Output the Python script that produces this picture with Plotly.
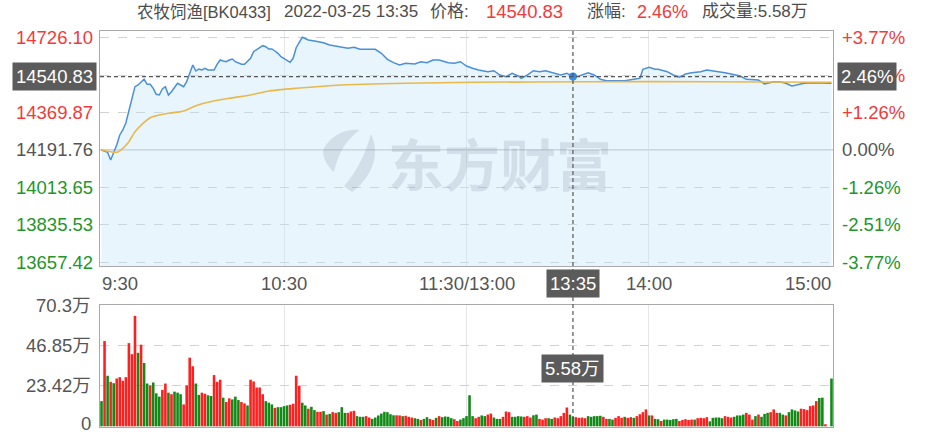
import plotly.graph_objects as go

# ---------------- data ----------------
stock_name = "农牧饲渔"
stock_code = "BK0433"
trade_date = "2022-03-25"
prev_close = 14191.76

time_labels = ["9:30", "10:30", "11:30/13:00", "14:00", "15:00"]
time_label_idx = [0, 60, 120, 180, 240]

price_idx = [0, 2, 3, 4, 5, 6, 7, 8, 9, 10, 11, 12, 14, 15, 16, 17, 18, 19, 20, 21,
             22, 23, 25, 26, 27, 28, 29, 30, 31, 32, 33, 34, 35, 37, 38, 39, 40, 41, 42, 43,
             44, 45, 46, 47, 49, 50, 51, 52, 53, 54, 55, 56, 57, 58, 59, 61, 62, 63, 64, 66,
             68, 70, 73, 75, 77, 79, 81, 83, 85, 87, 90, 92, 94, 96, 98, 100, 103, 105, 107, 109,
             111, 114, 116, 118, 120, 122, 124, 127, 129, 131, 133, 135, 137, 138, 140, 142, 144, 146, 148, 151,
             153, 155, 157, 159, 160, 162, 164, 166, 168, 170, 172, 175, 177, 178, 180, 182, 183, 186, 188, 190,
             192, 194, 197, 199, 201, 203, 205, 207, 210, 212, 214, 216, 218, 221, 223, 225, 227, 229, 231, 234,
             236, 238, 240]
price_val = [14191.3, 14180.4, 14143.7, 14175.6, 14215.1, 14262.8, 14286.6, 14319.9, 14373.7, 14429.4,
             14492.8, 14500.9, 14528.0, 14504.2, 14504.2, 14485.1, 14456.6, 14453.2, 14481.8, 14492.8,
             14453.2, 14469.0, 14509.0, 14500.9, 14492.8, 14516.6, 14556.6, 14596.1, 14567.5, 14577.1,
             14572.3, 14580.4, 14572.3, 14572.3, 14599.4, 14619.9, 14615.2, 14611.8, 14619.9, 14624.7,
             14611.8, 14604.2, 14599.4, 14599.4, 14628.0, 14659.4, 14667.5, 14678.5, 14688.0, 14683.2,
             14672.3, 14672.3, 14662.8, 14651.8, 14635.6, 14619.9, 14609.0, 14628.0, 14678.5, 14728.0,
             14715.2, 14710.4, 14702.3, 14691.3, 14686.6, 14680.4, 14675.6, 14680.4, 14670.9, 14670.9,
             14670.9, 14651.8, 14623.2, 14607.1, 14596.1, 14604.2, 14600.9, 14611.8, 14607.1, 14619.9,
             14619.9, 14607.1, 14604.2, 14611.8, 14591.3, 14580.4, 14572.3, 14564.2, 14569.0, 14548.5,
             14540.4, 14556.6, 14543.7, 14532.8, 14548.5, 14569.0, 14564.2, 14569.0, 14559.4, 14548.5,
             14556.6, 14540.83, 14543.7, 14556.0, 14559.4, 14548.5, 14528.0, 14521.3, 14521.3, 14521.3,
             14521.3, 14528.0, 14532.8, 14575.6, 14585.1, 14575.6, 14575.6, 14564.2, 14548.5, 14537.5,
             14553.2, 14559.4, 14564.2, 14572.3, 14569.0, 14564.2, 14559.4, 14553.2, 14543.7, 14528.0,
             14528.0, 14524.7, 14505.6, 14516.6, 14516.6, 14509.0, 14496.1, 14500.9, 14509.0, 14511.8,
             14511.8, 14509.0, 14509.0]

avg_idx = [0, 5, 7, 9, 11, 14, 16, 18, 22, 27, 31, 35, 42, 49, 55, 64, 79, 100, 122, 160, 200, 240]
avg_val = [14191.3, 14180.4, 14199.4, 14230.9, 14278.5, 14323.2, 14345.1, 14354.7, 14366.1, 14377.0,
           14402.3, 14418.5, 14437.5, 14453.2, 14472.3, 14485.1, 14500.9, 14508.9, 14513.7, 14516.6,
           14516.6, 14513.7]

# volume per minute (万), 9:30 .. 15:00
vol_wan = [14.6, 49.4, 29.3, 25.8, 25.0, 27.7, 28.5, 26.4, 28.5, 48.2,
           41.8, 64.0, 42.6, 47.3, 36.7, 24.8, 23.8, 25.4, 19.1, 17.2,
           21.1, 24.8, 19.5, 18.6, 20.1, 19.5, 18.6, 12.7, 23.8, 39.8,
           34.8, 24.8, 18.2, 19.5, 18.9, 18.0, 17.6, 29.7, 25.8, 27.0,
           16.6, 14.1, 16.2, 15.6, 17.2, 15.2, 14.1, 13.3, 12.1, 27.0,
           26.0, 22.5, 22.5, 18.6, 14.6, 13.7, 12.7, 10.7, 11.1, 11.1,
           11.7, 12.1, 12.5, 13.1, 29.3, 23.4, 13.7, 12.1, 10.2, 11.3,
           9.4, 8.4, 8.4, 8.8, 6.8, 7.2, 8.2, 7.8, 8.2, 11.1,
           7.8, 7.8, 8.6, 9.0, 5.9, 5.5, 5.5, 5.9, 5.1, 4.3,
           5.1, 6.3, 7.4, 8.4, 8.2, 7.0, 6.4, 6.4, 6.3, 5.9,
           6.1, 5.5, 5.1, 4.7, 4.3, 3.7, 4.3, 5.3, 4.3, 3.7,
           4.9, 5.9, 5.3, 5.7, 5.5, 4.7, 4.1, 3.1, 3.9, 4.7,
           5.9, 18.0, 5.9, 4.7, 5.5, 6.3, 5.9, 6.8, 7.4, 5.1,
           4.3, 4.3, 5.5, 8.6, 8.2, 5.5, 5.5, 5.9, 5.7, 5.5,
           5.9, 5.1, 6.4, 6.8, 4.3, 3.9, 4.7, 4.7, 4.3, 5.1,
           4.7, 5.9, 7.8, 10.9, 6.8, 5.58, 5.3, 4.9, 5.1, 4.7,
           5.9, 5.5, 5.9, 5.9, 6.1, 5.5, 4.3, 4.3, 3.9, 4.9,
           5.9, 4.9, 5.5, 4.9, 5.3, 4.9, 5.9, 7.0, 8.2, 9.8,
           6.3, 6.3, 4.3, 4.1, 3.1, 3.9, 3.9, 3.7, 4.1, 4.3,
           3.1, 3.7, 4.1, 3.7, 3.9, 3.9, 4.7, 4.9, 4.7, 5.3,
           2.9, 4.9, 5.1, 5.1, 4.7, 5.9, 5.5, 5.1, 5.5, 6.3,
           6.3, 6.8, 7.8, 6.8, 3.9, 5.9, 6.8, 5.5, 7.2, 7.8,
           8.2, 9.8, 7.8, 7.8, 6.8, 6.3, 8.2, 9.8, 9.2, 8.6,
           10.2, 10.0, 9.4, 11.7, 12.1, 14.6, 16.4, 16.6, 1.2, 0.0,
           27.7]
# +1 = up minute (red), -1 = down minute (green)
vol_dir = [-1, 1, -1, 1, -1, 1, 1, 1, 1, 1,
           1, 1, -1, 1, -1, -1, 1, -1, -1, -1,
           1, 1, -1, 1, -1, -1, -1, 1, 1, 1,
           1, -1, -1, 1, 1, -1, -1, 1, 1, 1,
           -1, 1, 1, -1, -1, -1, 1, 1, -1, 1,
           1, 1, 1, 1, -1, -1, -1, 1, -1, -1,
           -1, -1, 1, 1, 1, 1, -1, -1, 1, -1,
           -1, 1, 1, -1, 1, -1, 1, 1, -1, -1,
           -1, 1, 1, 1, -1, -1, -1, 1, 1, -1,
           -1, -1, -1, -1, -1, -1, -1, 1, 1, -1,
           1, 1, 1, -1, -1, 1, -1, -1, 1, 1,
           -1, 1, -1, -1, -1, -1, 1, 1, -1, -1,
           -1, -1, -1, 1, 1, -1, -1, 1, 1, -1,
           -1, -1, 1, 1, 1, -1, -1, -1, -1, 1,
           1, 1, -1, -1, 1, 1, 1, -1, -1, 1,
           1, 1, 1, 1, -1, -1, 1, 1, 1, 1,
           -1, -1, -1, -1, -1, 1, 1, -1, -1, 1,
           1, 1, -1, 1, 1, -1, 1, 1, 1, 1,
           -1, 1, -1, -1, 1, -1, -1, -1, -1, -1,
           1, 1, 1, 1, 1, -1, 1, 1, 1, 1,
           -1, -1, -1, -1, -1, 1, 1, 1, -1, -1,
           -1, -1, 1, 1, 1, -1, 1, -1, -1, -1,
           1, 1, 1, -1, -1, 1, -1, -1, -1, -1,
           1, 1, 1, 1, 1, 1, -1, -1, 1, 1,
           -1]

price_levels = [14726.10, 14547.99, 14369.87, 14191.76, 14013.65, 13835.53, 13657.42]
price_level_labels = ["14726.10", "14547.99", "14369.87", "14191.76", "14013.65", "13835.53", "13657.42"]
pct_labels = ["+3.77%", "+2.51%", "+1.26%", "0.00%", "-1.26%", "-2.51%", "-3.77%"]
vol_ticks = [0, 23.42, 46.85, 70.3]
vol_tick_labels = ["0", "23.42万", "46.85万", "70.3万"]

cursor_idx = 155
cursor_time = "13:35"
cursor_price = 14540.83
cursor_pct = "2.46%"
cursor_vol = "5.58万"

# ---------------- styling ----------------
W, H = 944, 434
ML, MR, MT, MB = 100, 111, 31, 7
PW, PH = W - ML - MR, H - MT - MB
FONT = "Liberation Sans, Arial, Noto Sans CJK SC, sans-serif"
RED, GREEN, GRAY = "#f23a3a", "#22962a", "#555555"
BAR_RED, BAR_GREEN = "#ff1f1f", "#138a18"
LBL = 18.5


def pxx(p):
    return (p - ML) / PW


def pxy(p):
    return (H - MB - p) / PH


top_dom = [pxy(266), 1.0]
vol_dom = [0.0, pxy(305)]

fig = go.Figure()

fig.add_trace(go.Scatter(
    x=price_idx, y=price_val, mode="lines", xaxis="x", yaxis="y",
    line=dict(color="#4a8fd9", width=1.5), fill="tozeroy",
    fillcolor="rgba(190,225,250,0.35)", hoverinfo="skip"))
fig.add_trace(go.Scatter(
    x=avg_idx, y=avg_val, mode="lines", xaxis="x", yaxis="y",
    line=dict(color="#e9b84a", width=1.6, shape="spline", smoothing=0.6), hoverinfo="skip"))
fig.add_trace(go.Scatter(
    x=[cursor_idx], y=[cursor_price], mode="markers", xaxis="x", yaxis="y",
    marker=dict(color="#2f8cf0", size=8), hoverinfo="skip"))

fig.add_trace(go.Bar(
    x=list(range(len(vol_wan))), y=vol_wan, xaxis="x2", yaxis="y2",
    marker=dict(color=[BAR_RED if d > 0 else BAR_GREEN for d in vol_dir], line=dict(width=0)),
    hoverinfo="skip"))

frame = dict(showline=True, linecolor="#a9a9a9", linewidth=1, mirror=True)
fig.update_layout(
    width=W, height=H, margin=dict(l=ML, r=MR, t=MT, b=MB),
    paper_bgcolor="white", plot_bgcolor="white", showlegend=False, bargap=0.15,
    font=dict(family=FONT, size=LBL, color=GRAY),
    xaxis=dict(domain=[0, 1], anchor="y", range=[-0.5, 240.5], tickvals=[60, 120, 180],
               showticklabels=False, ticks="", showgrid=True, gridcolor="#e6e6e6", gridwidth=1,
               zeroline=False, fixedrange=True, **frame),
    yaxis=dict(domain=top_dom, anchor="x", range=[13638.8, 14758.0], tickvals=price_levels,
               showticklabels=False, ticks="", showgrid=True, gridcolor="#d2d2d2",
               griddash="dash", zeroline=False, fixedrange=True, **frame),
    xaxis2=dict(domain=[0, 1], anchor="y2", range=[-0.5, 240.5], tickvals=[60, 120, 180],
                showticklabels=False, ticks="", showgrid=True, gridcolor="#e6e6e6",
                zeroline=False, fixedrange=True, **frame),
    yaxis2=dict(domain=vol_dom, anchor="x2", range=[-0.4, 70.3], tickvals=vol_ticks[1:3],
                showticklabels=False, ticks="", showgrid=True, gridcolor="#d2d2d2",
                griddash="dash", zeroline=False, fixedrange=True, **frame),
)

shapes = []
# previous close line (solid)
shapes.append(dict(type="line", xref="paper", yref="y", x0=0, x1=1, y0=prev_close, y1=prev_close,
                   line=dict(color="#b5b5b5", width=1), layer="between"))
# crosshair
shapes.append(dict(type="line", xref="paper", yref="y", x0=0, x1=1, y0=cursor_price, y1=cursor_price,
                   line=dict(color="#555555", width=1.2, dash="4px,3px"), layer="above"))
shapes.append(dict(type="line", xref="x", yref="paper", x0=cursor_idx, x1=cursor_idx, y0=0, y1=1,
                   line=dict(color="#555555", width=1.2, dash="4px,3px"), layer="above"))


# watermark logo (decoration), pixel-space path
def path_px(segs):
    out = []
    for cmd, pts in segs:
        out.append(cmd + " ".join("%.4f,%.4f" % (pxx(a), pxy(b)) for a, b in pts))
    return " ".join(out)


wm_col = "rgba(110,120,140,0.18)"
logo_paths = [
    [("M", [(352, 192)]), ("C", [(374, 176), (380, 152), (371, 134)]),
     ("C", [(366, 152), (358, 170), (344, 186)]), ("Z", [])],
    [("M", [(323, 150)]), ("C", [(330, 136), (345, 128), (360, 130)]),
     ("C", [(348, 138), (338, 152), (334, 172)]), ("C", [(327, 166), (323, 158), (323, 150)]), ("Z", [])],
]
for lp in logo_paths:
    shapes.append(dict(type="path", xref="paper", yref="paper", path=path_px(lp),
                       fillcolor=wm_col, line=dict(width=0), layer="above"))
fig.update_layout(shapes=shapes)

ann = []
# watermark text
ann.append(dict(text="<b>东方财富</b>", xref="paper", yref="paper", x=pxx(500), y=pxy(161),
                xanchor="center", yanchor="middle", showarrow=False,
                font=dict(family="Noto Sans CJK SC", size=56, color=wm_col)))

# header
hdr_y = pxy(12)
HG = "#4d4d4d"
hdr = [
    (135, f"{stock_name}[{stock_code}]", HG, 16.5),
    (282, f"{trade_date} {cursor_time}", HG, 17),
    (428, "价格:", HG, 17),
    (484, f"{cursor_price:.2f}", RED, 18.5),
    (585, "涨幅:", HG, 17),
    (635, cursor_pct, RED, 18),
    (700, f"成交量:{cursor_vol}", HG, 17),
]
for xp, t, col, fs in hdr:
    ann.append(dict(text=t, xref="paper", yref="paper", x=pxx(xp), y=hdr_y, xanchor="left",
                    yanchor="middle", showarrow=False, font=dict(size=fs, color=col)))


def lvl_color(v):
    if abs(v - prev_close) < 0.01:
        return GRAY
    return RED if v > prev_close else GREEN


for v, lab, pl in zip(price_levels, price_level_labels, pct_labels):
    c = lvl_color(v)
    ann.append(dict(text=lab, xref="paper", yref="y", x=0, y=v, xanchor="right", yanchor="middle",
                    xshift=-5, showarrow=False, font=dict(color=c)))
    ann.append(dict(text=pl, xref="paper", yref="y", x=1, y=v, xanchor="left", yanchor="middle",
                    xshift=7, showarrow=False, font=dict(color=c)))

# time labels
lab_y = pxy(283)
for i, (ti, tl) in enumerate(zip(time_label_idx, time_labels)):
    if i == 0:
        xa, xv = "left", -0.5
    elif i == len(time_labels) - 1:
        xa, xv = "right", 240.5
    else:
        xa, xv = "center", ti
    ann.append(dict(text=tl, xref="x", yref="paper", x=xv, y=lab_y, xanchor=xa, yanchor="middle",
                    showarrow=False, font=dict(color=GRAY)))

# volume labels
for v, lab in zip(vol_ticks, vol_tick_labels):
    ann.append(dict(text=lab, xref="paper", yref="y2", x=0, y=v, xanchor="right", yanchor="middle",
                    xshift=-7, yshift=(3 if v == 0 else 0), showarrow=False, font=dict(color=GRAY)))

# crosshair boxes
box = dict(showarrow=False, bgcolor="#5b5b5b", font=dict(color="white", size=LBL), borderpad=3)
ann.append(dict(text=f"{cursor_price:.2f}", xref="paper", yref="y", x=0, y=cursor_price,
                xanchor="right", yanchor="middle", xshift=-3, **box))
ann.append(dict(text=cursor_pct, xref="paper", yref="y", x=1, y=cursor_price,
                xanchor="left", yanchor="middle", xshift=4, **box))
ann.append(dict(text=cursor_time, xref="x", yref="paper", x=cursor_idx, y=lab_y,
                xanchor="center", yanchor="middle", **box))
ann.append(dict(text=cursor_vol, xref="x", yref="y2", x=cursor_idx, y=33.5,
                xanchor="center", yanchor="middle", **box))

fig.update_layout(annotations=ann)
fig.write_html("out.html", config={"displayModeBar": False, "staticPlot": True},
               post_script="document.body.style.margin='0';document.body.style.overflow='hidden';")
